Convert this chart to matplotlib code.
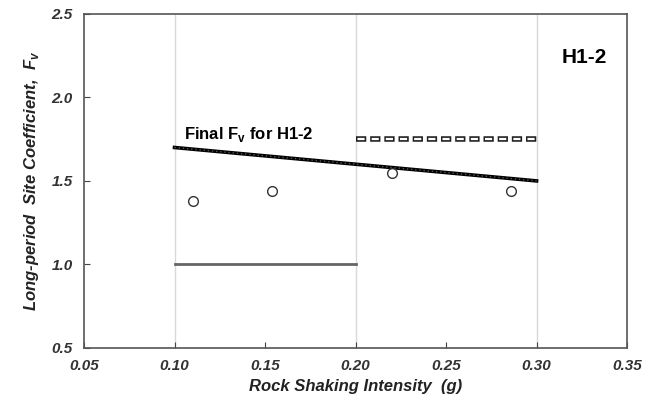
import matplotlib.pyplot as plt
import matplotlib.ticker as ticker

plt.rcParams["font.family"] = ["Liberation Sans", "DejaVu Sans"]

# ── Data ─────────────────────────────────────────────────────
obs_x = [0.110, 0.154, 0.220, 0.286]
obs_y = [1.38, 1.44, 1.545, 1.44]

final_x = [0.10, 0.30]
final_y = [1.70, 1.50]

upper_x = [0.20, 0.30]
upper_y = [1.75, 1.75]

lower_x = [0.10, 0.20]
lower_y = [1.00, 1.00]

# ── Plot ─────────────────────────────────────────────────────
fig = plt.figure(figsize=(6.59, 4.07), dpi=100)
ax = fig.add_axes([0.1275, 0.145, 0.824, 0.821])

for xv in [0.10, 0.20, 0.30]:
    ax.axvline(xv, color="#d9d9d9", linewidth=1.0, zorder=0)

ax.plot(lower_x, lower_y, color="#666666", linewidth=2.0, zorder=2)
# hollow dashes: thick dark dashes with a thin white dash inside
ax.plot(upper_x, upper_y, color="#222222", linewidth=4.0,
        linestyle=(0, (1.85, 0.7)), dash_capstyle="butt", zorder=2)
ax.plot(upper_x, upper_y, color="white", linewidth=1.6,
        linestyle=(5.7, (3.2, 3.175)), dash_capstyle="butt", zorder=3)
ax.plot(final_x, final_y, color="black", linewidth=2.6, zorder=3)
ax.plot(final_x, final_y, color="#555555", linewidth=1.0,
        linestyle=(0, (1, 2)), zorder=4)
ax.plot(obs_x, obs_y, linestyle="none", marker="o", markersize=7,
        markerfacecolor="white", markeredgecolor="#333333",
        markeredgewidth=1.0, zorder=5)

ax.text(0.105, 1.78, r"Final F$_\mathregular{v}$ for H1-2", fontsize=12,
        fontweight="bold", ha="left", va="center")
ax.text(0.339, 2.24, "H1-2", fontsize=15, fontweight="bold",
        ha="right", va="center")

ax.set_xlim(0.05, 0.35)
ax.set_ylim(0.5, 2.5)
ax.xaxis.set_major_locator(ticker.MultipleLocator(0.05))
ax.yaxis.set_major_locator(ticker.MultipleLocator(0.5))
ax.xaxis.set_major_formatter(ticker.FormatStrFormatter("%.2f"))
ax.yaxis.set_major_formatter(ticker.FormatStrFormatter("%.1f"))
ax.tick_params(direction="in", length=4, color="#444444",
               labelsize=11, labelcolor="#333333", pad=8)
for lab in ax.get_xticklabels() + ax.get_yticklabels():
    lab.set_fontweight("bold")
    lab.set_fontstyle("italic")
for sp in ax.spines.values():
    sp.set_color("#555555")
    sp.set_linewidth(1.2)

ax.set_xlabel("Rock Shaking Intensity  (g)", fontsize=12,
              fontweight="bold", fontstyle="italic", color="#222222")
ax.set_ylabel(r"Long-period  Site Coefficient,  F$_\mathregular{v}$",
              fontsize=12, fontweight="bold", fontstyle="italic",
              color="#222222", labelpad=8)

plt.savefig("out.png", dpi=100)
